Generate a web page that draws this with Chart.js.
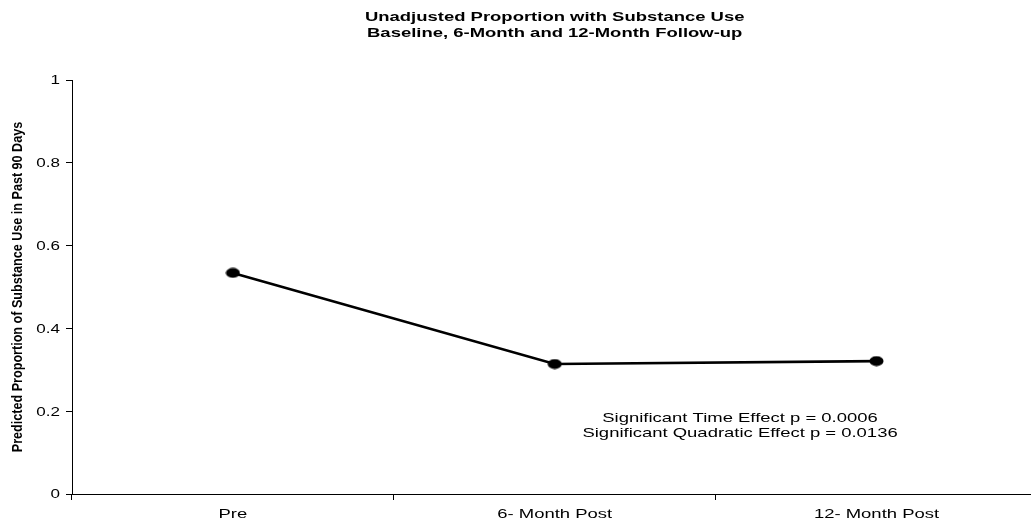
<!DOCTYPE html>
<html lang="en">
<head>
    <meta charset="UTF-8">
    <title>Unadjusted Proportion with Substance Use</title>
    <script src="https://cdn.jsdelivr.net/npm/chart.js"></script>
    <style>
        html, body {
            margin: 0;
            padding: 0;
            background: #fff;
            overflow: hidden;
        }
        #wrap {
            width: 1046px;
            height: 522px;
        }
    </style>
</head>
<body>
    <div id="wrap">
        <canvas id="useChart" width="1046" height="522"></canvas>
    </div>

    <script>
        // data
        const timeLabels = ['Pre', '6- Month Post', '12- Month Post'];
        const useValues = [0.534, 0.314, 0.321];
        const yTicks = [0, 0.2, 0.4, 0.6, 0.8, 1];

        const titleLines = ['Unadjusted Proportion with Substance Use', 'Baseline, 6-Month and 12-Month Follow-up'];
        const yTitle = 'Predicted Proportion of Substance Use in Past 90 Days';
        const noteLines = ['Significant Time Effect p = 0.0006', 'Significant Quadratic Effect p = 0.0136'];

        // the reference text is drawn wide, so horizontal text gets stretched a bit
        const STRETCH = 1.42;
        const FAMILY = '"Liberation Sans", Arial, sans-serif';

        function wideText(ctx, text, x, y) {
            ctx.save();
            ctx.translate(x, y);
            ctx.scale(STRETCH, 1);
            ctx.fillText(text, 0, 0);
            ctx.restore();
        }

        // elliptical marker, like the reference dots
        const dot = document.createElement('canvas');
        dot.width = 15;
        dot.height = 11;
        const dctx = dot.getContext('2d');
        dctx.fillStyle = '#000';
        dctx.beginPath();
        dctx.ellipse(7.5, 5.5, 7, 5, 0, 0, Math.PI * 2);
        dctx.fill();

        const textPlugin = {
            id: 'textPlugin',
            afterDraw(chart) {
                const ctx = chart.ctx;
                const area = chart.chartArea;
                const xs = chart.scales.x;
                const ys = chart.scales.y;
                const cx = (area.left + area.right) / 2;
                ctx.save();
                ctx.fillStyle = '#000';
                ctx.textBaseline = 'middle';

                // title
                ctx.textAlign = 'center';
                ctx.font = 'bold 13px ' + FAMILY;
                wideText(ctx, titleLines[0], cx, 17.5);
                wideText(ctx, titleLines[1], cx, 33.5);

                // x category labels
                ctx.font = '13px ' + FAMILY;
                timeLabels.forEach((lab, i) => {
                    wideText(ctx, lab, xs.getPixelForTick(i), xs.bottom - 8);
                });

                // y tick labels
                ctx.textAlign = 'right';
                ctx.font = '12px ' + FAMILY;
                yTicks.forEach(v => {
                    wideText(ctx, String(v), ys.right - 12, ys.getPixelForValue(v) + 1);
                });

                // p-value note
                ctx.textAlign = 'center';
                ctx.font = '13px ' + FAMILY;
                const nx = xs.getPixelForValue(1) + 0.576 * (xs.getPixelForValue(2) - xs.getPixelForValue(1));
                const ny = ys.getPixelForValue(0.164);
                wideText(ctx, noteLines[0], nx, ny - 7.5);
                wideText(ctx, noteLines[1], nx, ny + 7.5);

                // y axis title, rotated, narrow bold look
                ctx.save();
                ctx.translate(22, (area.top + area.bottom) / 2);
                ctx.rotate(-Math.PI / 2);
                ctx.scale(0.9, 1);
                ctx.textAlign = 'center';
                ctx.textBaseline = 'alphabetic';
                ctx.font = 'bold 14px ' + FAMILY;
                ctx.fillText(yTitle, 0, 0);
                ctx.restore();

                ctx.restore();
            }
        };

        const ctx = document.getElementById('useChart').getContext('2d');
        new Chart(ctx, {
            type: 'line',
            data: {
                labels: timeLabels,
                datasets: [{
                    data: useValues,
                    borderColor: '#000',
                    backgroundColor: '#000',
                    borderWidth: 2.6,
                    pointStyle: dot,
                    pointRadius: 6,
                    pointHoverRadius: 6,
                    tension: 0
                }]
            },
            options: {
                responsive: false,
                animation: false,
                layout: {
                    padding: { top: 80, right: 2, left: 0, bottom: 0 }
                },
                scales: {
                    x: {
                        offset: true,
                        grid: {
                            offset: true,
                            drawOnChartArea: false,
                            drawTicks: true,
                            tickLength: 6,
                            color: '#000'
                        },
                        border: { display: true, color: '#000', width: 1 },
                        // labels are drawn wide by textPlugin
                        ticks: { color: 'rgba(0,0,0,0)' },
                        afterFit(scale) { scale.height = 28; }
                    },
                    y: {
                        min: 0,
                        max: 1,
                        afterBuildTicks(scale) {
                            scale.ticks = yTicks.map(v => ({ value: v }));
                        },
                        grid: {
                            drawOnChartArea: false,
                            drawTicks: true,
                            tickLength: 6,
                            color: '#000'
                        },
                        border: { display: true, color: '#000', width: 1 },
                        ticks: { color: 'rgba(0,0,0,0)' },
                        afterFit(scale) { scale.width = 72; }
                    }
                },
                plugins: {
                    legend: { display: false },
                    tooltip: { enabled: false }
                }
            },
            plugins: [textPlugin]
        });
    </script>
</body>
</html>
